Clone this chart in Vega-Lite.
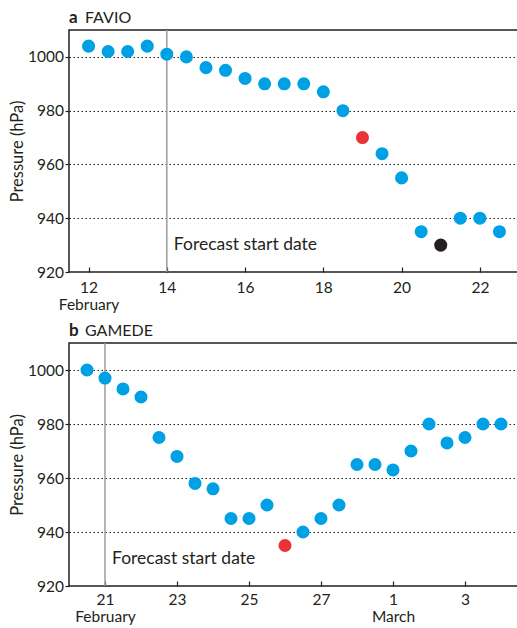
{
  "$schema": "https://vega.github.io/schema/vega-lite/v6.json",
  "background": "white",
  "padding": {"left": 8, "top": 8, "right": 0, "bottom": 5},
  "spacing": 7,
  "config": {
    "font": "Lato",
    "view": {"stroke": "#231f20", "strokeWidth": 1.5},
    "axis": {
      "labelFont": "Lato",
      "titleFont": "Lato",
      "labelColor": "#231f20",
      "titleColor": "#231f20",
      "labelFontSize": 15.5,
      "titleFontSize": 16.5,
      "titleFontWeight": "normal",
      "tickColor": "#231f20",
      "tickWidth": 1.2,
      "domain": false
    }
  },
  "datasets": {
    "favio": [
      {"day": 12, "pressure": 1004, "kind": "blue"},
      {"day": 12.5, "pressure": 1002, "kind": "blue"},
      {"day": 13, "pressure": 1002, "kind": "blue"},
      {"day": 13.5, "pressure": 1004, "kind": "blue"},
      {"day": 14, "pressure": 1001, "kind": "blue"},
      {"day": 14.5, "pressure": 1000, "kind": "blue"},
      {"day": 15, "pressure": 996, "kind": "blue"},
      {"day": 15.5, "pressure": 995, "kind": "blue"},
      {"day": 16, "pressure": 992, "kind": "blue"},
      {"day": 16.5, "pressure": 990, "kind": "blue"},
      {"day": 17, "pressure": 990, "kind": "blue"},
      {"day": 17.5, "pressure": 990, "kind": "blue"},
      {"day": 18, "pressure": 987, "kind": "blue"},
      {"day": 18.5, "pressure": 980, "kind": "blue"},
      {"day": 19, "pressure": 970, "kind": "red"},
      {"day": 19.5, "pressure": 964, "kind": "blue"},
      {"day": 20, "pressure": 955, "kind": "blue"},
      {"day": 20.5, "pressure": 935, "kind": "blue"},
      {"day": 21, "pressure": 930, "kind": "black"},
      {"day": 21.5, "pressure": 940, "kind": "blue"},
      {"day": 22, "pressure": 940, "kind": "blue"},
      {"day": 22.5, "pressure": 935, "kind": "blue"}
    ],
    "gamede": [
      {"day": 20.5, "pressure": 1000, "kind": "blue"},
      {"day": 21, "pressure": 997, "kind": "blue"},
      {"day": 21.5, "pressure": 993, "kind": "blue"},
      {"day": 22, "pressure": 990, "kind": "blue"},
      {"day": 22.5, "pressure": 975, "kind": "blue"},
      {"day": 23, "pressure": 968, "kind": "blue"},
      {"day": 23.5, "pressure": 958, "kind": "blue"},
      {"day": 24, "pressure": 956, "kind": "blue"},
      {"day": 24.5, "pressure": 945, "kind": "blue"},
      {"day": 25, "pressure": 945, "kind": "blue"},
      {"day": 25.5, "pressure": 950, "kind": "blue"},
      {"day": 26, "pressure": 935, "kind": "red"},
      {"day": 26.5, "pressure": 940, "kind": "blue"},
      {"day": 27, "pressure": 945, "kind": "blue"},
      {"day": 27.5, "pressure": 950, "kind": "blue"},
      {"day": 28, "pressure": 965, "kind": "blue"},
      {"day": 28.5, "pressure": 965, "kind": "blue"},
      {"day": 29, "pressure": 963, "kind": "blue"},
      {"day": 29.5, "pressure": 970, "kind": "blue"},
      {"day": 30, "pressure": 980, "kind": "blue"},
      {"day": 30.5, "pressure": 973, "kind": "blue"},
      {"day": 31, "pressure": 975, "kind": "blue"},
      {"day": 31.5, "pressure": 980, "kind": "blue"},
      {"day": 32, "pressure": 980, "kind": "blue"}
    ]
  },
  "vconcat": [
    {
      "width": 450,
      "height": 242,
      "layer": [
        {
          "data": {"values": [{"start": 14}]},
          "mark": {"type": "rule", "color": "#9d9d9d", "strokeWidth": 1.5},
          "encoding": {"x": {"field": "start", "type": "quantitative"}}
        },
        {
          "data": {"name": "favio"},
          "mark": {"type": "circle", "size": 170, "opacity": 1},
          "encoding": {
            "x": {
              "field": "day", "type": "quantitative",
              "scale": {"domain": [11.5, 23], "nice": false, "zero": false},
              "axis": {
                "title": null,
                "values": [12, 14, 16, 18, 20, 22],
                "format": "d",
                "labelExpr": "datum.value == 12 ? ['12', 'February'] : datum.label",
                "labelLineHeight": 17,
                "tickSize": -5,
                "labelPadding": 13,
                "grid": false
              }
            },
            "y": {
              "field": "pressure", "type": "quantitative",
              "scale": {"domain": [920, 1010], "nice": false, "zero": false},
              "axis": {
                "title": "Pressure (hPa)",
                "titlePadding": 2,
                "values": [920, 930, 940, 950, 960, 970, 980, 990, 1000],
                "format": "d",
                "labelExpr": "datum.value % 20 == 0 ? datum.label : ''",
                "grid": true,
                "gridDash": [1.5, 2.5],
                "gridColor": "#231f20",
                "gridWidth": 1.2,
                "gridOpacity": {"condition": {"test": "datum.value % 20 == 0 && datum.value > 920", "value": 1}, "value": 0},
                "tickSize": {"condition": {"test": "datum.value % 20 == 0", "value": 4}, "value": -5},
                "labelPadding": 1.5
              }
            },
            "color": {
              "field": "kind", "type": "nominal",
              "scale": {"domain": ["blue", "red", "black"], "range": ["#00a1e4", "#ed3237", "#231f20"]},
              "legend": null
            }
          }
        },
        {
          "data": {"values": [{"start": 14, "level": 930, "label": "Forecast start date"}]},
          "mark": {"type": "text", "align": "left", "baseline": "middle", "dx": 7, "fontSize": 17.5, "color": "#231f20", "font": "Lato"},
          "encoding": {
            "x": {"field": "start", "type": "quantitative"},
            "y": {"field": "level", "type": "quantitative"},
            "text": {"field": "label"}
          }
        },
        {
          "data": {"values": [{"day": 11.5, "top": 1010, "letter": "a", "name": "FAVIO"}]},
          "layer": [
            {
              "mark": {"type": "text", "align": "left", "baseline": "alphabetic", "dy": -7, "fontSize": 17, "fontWeight": "bold", "color": "#231f20", "font": "Lato"},
              "encoding": {
                "x": {"field": "day", "type": "quantitative"},
                "y": {"field": "top", "type": "quantitative"},
                "text": {"field": "letter"}
              }
            },
            {
              "mark": {"type": "text", "align": "left", "baseline": "alphabetic", "dy": -7, "dx": 16, "fontSize": 16, "color": "#231f20", "font": "Lato"},
              "encoding": {
                "x": {"field": "day", "type": "quantitative"},
                "y": {"field": "top", "type": "quantitative"},
                "text": {"field": "name"}
              }
            }
          ]
        }
      ]
    },
    {
      "width": 450,
      "height": 243,
      "layer": [
        {
          "data": {"values": [{"start": 21}]},
          "mark": {"type": "rule", "color": "#9d9d9d", "strokeWidth": 1.5},
          "encoding": {"x": {"field": "start", "type": "quantitative"}}
        },
        {
          "data": {"name": "gamede"},
          "mark": {"type": "circle", "size": 170, "opacity": 1},
          "encoding": {
            "x": {
              "field": "day", "type": "quantitative",
              "scale": {"domain": [20, 32.5], "nice": false, "zero": false},
              "axis": {
                "title": null,
                "values": [21, 23, 25, 27, 29, 31],
                "format": "d",
                "labelExpr": "datum.value == 21 ? ['21', 'February'] : datum.value == 29 ? ['1', 'March'] : datum.value > 28 ? '' + (datum.value - 28) : datum.label",
                "labelLineHeight": 17,
                "tickSize": -5,
                "labelPadding": 11,
                "grid": false
              }
            },
            "y": {
              "field": "pressure", "type": "quantitative",
              "scale": {"domain": [920, 1010], "nice": false, "zero": false},
              "axis": {
                "title": "Pressure (hPa)",
                "titlePadding": 2,
                "values": [920, 930, 940, 950, 960, 970, 980, 990, 1000],
                "format": "d",
                "labelExpr": "datum.value % 20 == 0 ? datum.label : ''",
                "grid": true,
                "gridDash": [1.5, 2.5],
                "gridColor": "#231f20",
                "gridWidth": 1.2,
                "gridOpacity": {"condition": {"test": "datum.value % 20 == 0 && datum.value > 920", "value": 1}, "value": 0},
                "tickSize": {"condition": {"test": "datum.value % 20 == 0", "value": 4}, "value": -5},
                "labelPadding": 1.5
              }
            },
            "color": {
              "field": "kind", "type": "nominal",
              "scale": {"domain": ["blue", "red", "black"], "range": ["#00a1e4", "#ed3237", "#231f20"]},
              "legend": null
            }
          }
        },
        {
          "data": {"values": [{"start": 21, "level": 930, "label": "Forecast start date"}]},
          "mark": {"type": "text", "align": "left", "baseline": "middle", "dx": 7, "fontSize": 17.5, "color": "#231f20", "font": "Lato"},
          "encoding": {
            "x": {"field": "start", "type": "quantitative"},
            "y": {"field": "level", "type": "quantitative"},
            "text": {"field": "label"}
          }
        },
        {
          "data": {"values": [{"day": 20, "top": 1010, "letter": "b", "name": "GAMEDE"}]},
          "layer": [
            {
              "mark": {"type": "text", "align": "left", "baseline": "alphabetic", "dy": -7, "fontSize": 17, "fontWeight": "bold", "color": "#231f20", "font": "Lato"},
              "encoding": {
                "x": {"field": "day", "type": "quantitative"},
                "y": {"field": "top", "type": "quantitative"},
                "text": {"field": "letter"}
              }
            },
            {
              "mark": {"type": "text", "align": "left", "baseline": "alphabetic", "dy": -7, "dx": 16, "fontSize": 16, "color": "#231f20", "font": "Lato"},
              "encoding": {
                "x": {"field": "day", "type": "quantitative"},
                "y": {"field": "top", "type": "quantitative"},
                "text": {"field": "name"}
              }
            }
          ]
        }
      ]
    }
  ]
}
